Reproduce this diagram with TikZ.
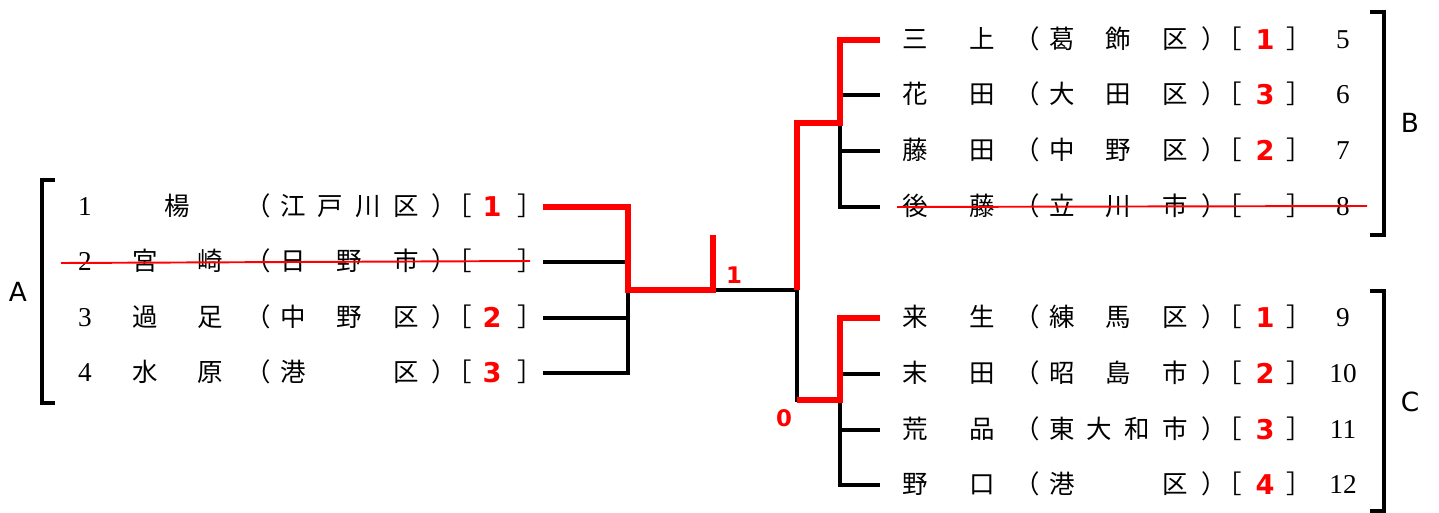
\documentclass[tikz,border=0pt]{standalone}
\usepackage{fontspec}
\setsansfont{DejaVu Sans}
\newfontfamily\jp{Noto Sans CJK JP}
\newfontfamily\numf{Liberation Serif}

\begin{document}
\begin{tikzpicture}[x=0.02cm, y=-0.02cm,
  every node/.style={inner sep=0pt},
  txt/.style={anchor=base, yshift=-5.1pt},
  kj/.style={txt, font=\jp\fontsize{14.5}{16}\selectfont},
  num/.style={txt, font=\numf\fontsize{15.5}{17}\selectfont},
  res/.style={txt, yshift=-0.4pt, text=red, font=\sffamily\bfseries\fontsize{15.5}{17}\selectfont},
  tag/.style={text=red, font=\sffamily\bfseries\fontsize{13}{15}\selectfont},
  grp/.style={font=\sffamily\fontsize{15}{17}\selectfont},
  lose/.style={line width=1.9pt},
  win/.style={line width=3.2pt, red},
  brk/.style={line width=2pt},
  strike/.style={line width=1.1pt, red}]

\useasboundingbox (0,0) rectangle (1439,513);

% pool A
\foreach \i/\y/\nm/\pl/\w in {1/207/{\hfill 楊\hfill}/{江\hfill 戸\hfill 川\hfill 区}/1,
    2/262/{宮\hfill 崎}/{日\hfill 野\hfill 市}/{},
    3/318/{過\hfill 足}/{中\hfill 野\hfill 区}/2,
    4/373/{水\hfill 原}/{港\hfill 区}/3}{
  \node[num] (ln\i) at (85,\y) {\i};
  \node[kj] (lm\i) at (177.5,\y) {\makebox[1.81cm][s]{\nm}};
  \node[kj] (lo\i) at (258,\y) {（};
  \node[kj] (lp\i) at (349.5,\y) {\makebox[2.77cm][s]{\pl}};
  \node[kj] (lc\i) at (444,\y) {）};
  \node[kj] (lb\i) at (459,\y) {［};
  \node[res] (lr\i) at (492,\y) {\w};
  \node[kj] (le\i) at (530,\y) {］};
  \coordinate (l\i) at (543,\y);
}

% pools B and C
\foreach \i/\y/\nm/\pl/\w in {5/40/{三\hfill 上}/{葛\hfill 飾\hfill 区}/1,
    6/95/{花\hfill 田}/{大\hfill 田\hfill 区}/3,
    7/151/{藤\hfill 田}/{中\hfill 野\hfill 区}/2,
    8/207/{後\hfill 藤}/{立\hfill 川\hfill 市}/{},
    9/318/{来\hfill 生}/{練\hfill 馬\hfill 区}/1,
    10/374/{末\hfill 田}/{昭\hfill 島\hfill 市}/2,
    11/430/{荒\hfill 品}/{東\hfill 大\hfill 和\hfill 市}/3,
    12/485/{野\hfill 口}/{港\hfill 区}/4}{
  \node[kj] (rm\i) at (948.5,\y) {\makebox[1.85cm][s]{\nm}};
  \node[kj] (ro\i) at (1027,\y) {（};
  \node[kj] (rp\i) at (1118.5,\y) {\makebox[2.77cm][s]{\pl}};
  \node[kj] (rc\i) at (1214,\y) {）};
  \node[kj] (rb\i) at (1229,\y) {［};
  \node[res] (rr\i) at (1265,\y) {\w};
  \node[kj] (re\i) at (1299,\y) {］};
  \node[num] (rn\i) at (1343,\y) {\i};
  \coordinate (r\i) at (880,\y);
}

\coordinate (j1) at (628,290);
\coordinate (m1) at (713,290);
\coordinate (m1t) at (713,235);
\coordinate (k) at (797,290);
\coordinate (jb) at (840,123);
\coordinate (jc) at (840,400);

% losers
\draw[lose] (l4) -| (j1) -- (k) |- (jc) |- (r12);
\draw[lose] (l2) -- (l2 -| j1) (l3) -- (l3 -| j1);
\draw[lose] (jb) |- (r8) (r6) -- (r6 -| jb) (r7) -- (r7 -| jb);
\draw[lose] (r10) -- (r10 -| jc) (r11) -- (r11 -| jc);

% winners
\draw[win] (l1) -| (j1) -- (m1) -- (m1t);
\draw[win] (k) |- (jb) |- (r5);
\draw[win] (k |- jc) -- (jc) |- (r9);

\node[tag] (w1) at (734,275) {1};
\node[tag] (w0) at (784,418) {0};

% groups
\draw[brk] (55,180) -- (42,180) -- (42,403) -- (55,403);
\node[grp] (A) at (18,292) {A};
\draw[brk] (1370,12) -- (1384,12) -- (1384,235) -- (1370,235);
\node[grp] (B) at (1410,123) {B};
\draw[brk] (1370,291) -- (1384,291) -- (1384,511) -- (1370,511);
\node[grp] (C) at (1410,402) {C};

\draw[strike] (61,263) -- (530,261);
\draw[strike] (897,207) -- (1367,206);

\end{tikzpicture}
\end{document}
